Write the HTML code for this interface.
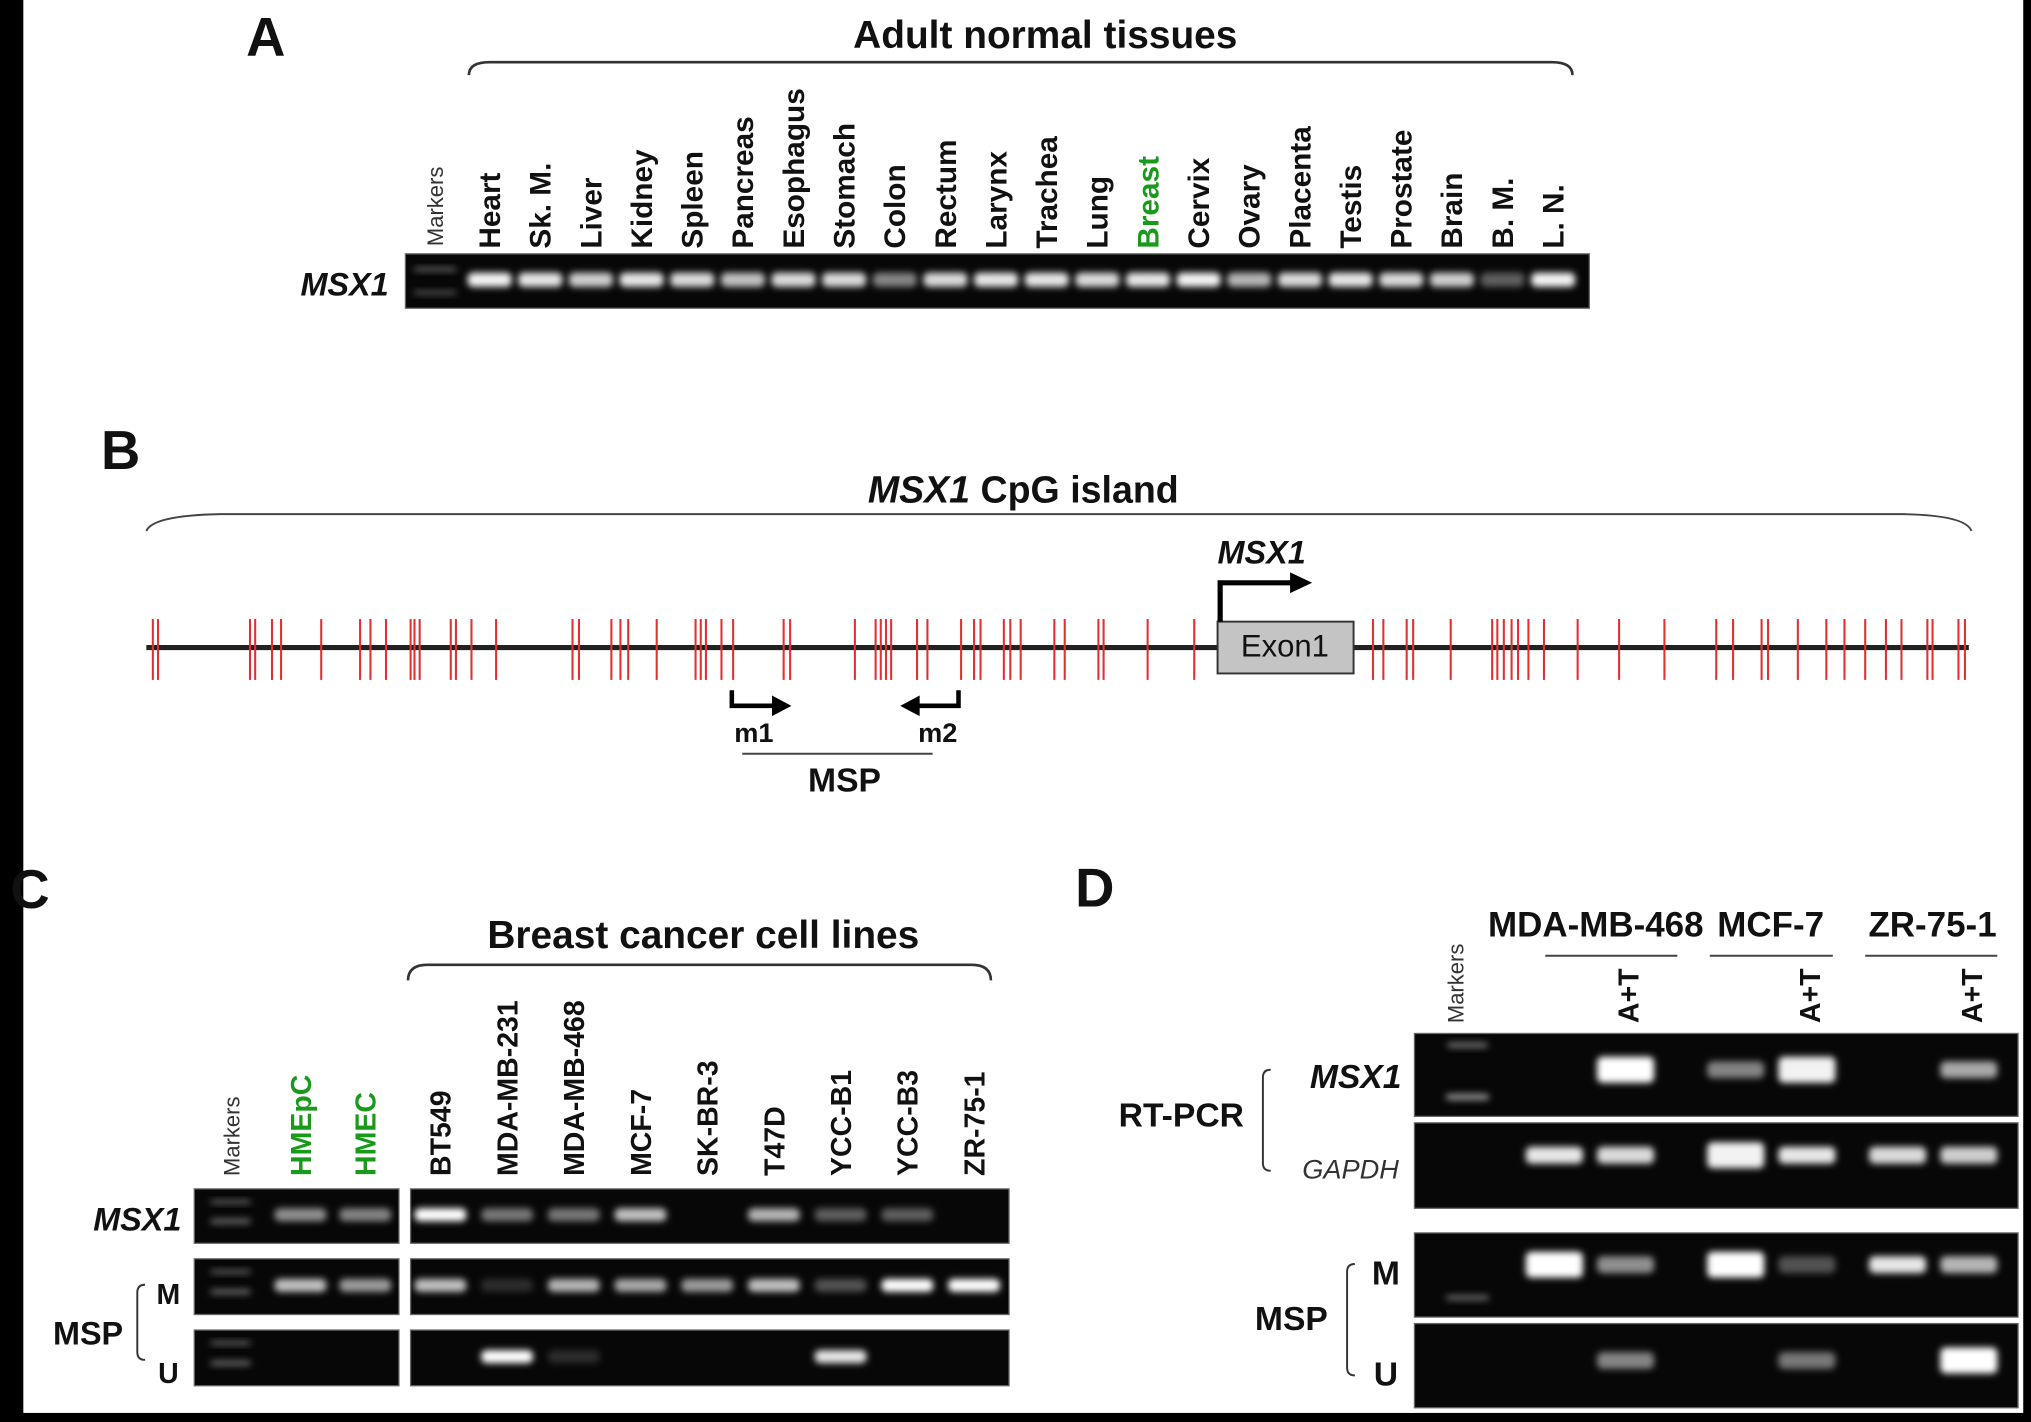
<!DOCTYPE html>
<html><head><meta charset="utf-8"><style>
html,body{margin:0;padding:0;background:#fff;}
svg{display:block;}
text{font-family:"Liberation Sans",sans-serif;}
</style></head><body>
<svg id="fig" width="2031" height="1422" viewBox="0 0 1568 1098" preserveAspectRatio="none" xmlns="http://www.w3.org/2000/svg">
<defs>
<filter id="blur" x="-50%" y="-100%" width="200%" height="300%"><feGaussianBlur stdDeviation="2.6"/></filter>
</defs>
<rect x="0" y="0" width="1568" height="1098" fill="#fff"/>
<rect x="0" y="0" width="18" height="1098" fill="#000"/>
<rect x="1562" y="0" width="6" height="1098" fill="#000"/>
<rect x="0" y="1091" width="1568" height="7" fill="#000"/>
<g id="root"></g>
</svg>
<script>
// ---------- data ----------
const laneNamesA = ["Heart","Sk. M.","Liver","Kidney","Spleen","Pancreas","Esophagus","Stomach","Colon","Rectum","Larynx","Trachea","Lung","Breast","Cervix","Ovary","Placenta","Testis","Prostate","Brain","B. M.","L. N."];
const bandA = [0.95,0.9,0.8,0.9,0.85,0.75,0.85,0.85,0.5,0.85,0.9,0.9,0.85,0.9,0.95,0.7,0.85,0.9,0.85,0.8,0.35,0.95];
const cpgSites = [118,122,193,197,210,217,248,278,286,298,317,320,324,348,352,364,383,442,447,472,479,485,507,537,541,545,557,566,605,610,660,676,680,684,688,708,716,742,752,757,775,780,788,814,822,848,852,886,922,1060,1068,1086,1091,1120,1152,1156,1161,1167,1172,1180,1192,1218,1250,1285,1325,1338,1360,1365,1388,1410,1424,1440,1456,1468,1488,1492,1512,1517];
const laneNamesC = ["HMEpC","HMEC","BT549","MDA-MB-231","MDA-MB-468","MCF-7","SK-BR-3","T47D","YCC-B1","YCC-B3","ZR-75-1"];
const msx1C = [0.55,0.5,1.0,0.45,0.45,0.75,0,0.7,0.35,0.35,0];
const mspMC = [0.75,0.6,0.75,0.15,0.7,0.65,0.6,0.75,0.3,1.0,1.0];
const mspUC = [0,0,0,1.0,0.15,0,0,0,0.9,0,0];
const laneNamesD = ["MDA-MB-468","MDA-MB-468 A+T","MCF-7","MCF-7 A+T","ZR-75-1","ZR-75-1 A+T"];
const msx1D = [0,1.0,0.5,0.95,0,0.65];
const gapdhD = [0.9,0.85,0.95,0.9,0.85,0.8];
const mspMD = [1.0,0.55,1.0,0.3,0.9,0.7];
const mspUD = [0,0.5,0,0.45,0,1.0];

// ---------- helpers ----------
const NS="http://www.w3.org/2000/svg";
const root=document.getElementById('root');
function mk(tag,attrs,parent){const e=document.createElementNS(NS,tag);for(const k in attrs)e.setAttribute(k,attrs[k]);(parent||root).appendChild(e);return e;}
function txt(x,y,s,opt,parent){const o=Object.assign({x:x,y:y,'font-size':20,'font-weight':'bold',fill:'#111'},opt||{});const e=mk('text',o,parent);e.textContent=s;return e;}
function band(g,cx,cy,w,h,v){if(v<=0)return;const b=mk('rect',{x:cx-w/2,y:cy-h/2,width:w,height:h,rx:4,fill:'#fff','fill-opacity':Math.min(1,v),filter:'url(#blur)'},g);}
function gel(x,y,w,h,name){const r=mk('rect',{x:x,y:y,width:w,height:h,fill:'#070707',stroke:'#666','stroke-width':1});return r;}
function rot(x,y,s,opt){const o=Object.assign({transform:`rotate(-90 ${x} ${y})`},opt||{});return txt(x,y,s,o);}

// ---------- Panel A ----------
txt(190,43,"A",{'font-size':42});
txt(807,37,"Adult normal tissues",{'font-size':30,'text-anchor':'middle'});
mk('path',{d:'M362,58 Q362,48 378,48 L1198,48 Q1214,48 1214,58',fill:'none',stroke:'#333','stroke-width':2});
gel(313,196,914,42,'gel-panel-a');
const gA=mk('g',{});
const xA=i=>378+i*39.1;
rot(342,190,"Markers",{'font-size':17,'font-weight':'normal',fill:'#333'});
band(gA,336,208,34,3,0.4);band(gA,336,226,34,3,0.35);
laneNamesA.forEach((n,i)=>{
  const t=rot(xA(i)+8,192,n,{'font-size':23,fill:n==="Breast"?'#1a9a1a':'#111'});
  
  band(gA,xA(i),216,34,11,bandA[i]);
});
txt(300,228,"MSX1",{'font-size':25,'font-style':'italic','text-anchor':'end'});

// ---------- Panel B ----------
txt(78,362,"B",{'font-size':42});
const tb=txt(790,388,"",{'font-size':29,'text-anchor':'middle'});
const ts1=mk('tspan',{'font-style':'italic'},tb);ts1.textContent="MSX1";
const ts2=mk('tspan',{},tb);ts2.textContent=" CpG island";
mk('path',{d:'M113,410 Q118,398 170,397 L1470,397 Q1518,398 1522,410',fill:'none',stroke:'#444','stroke-width':1.5});
mk('line',{x1:113,y1:500,x2:1520,y2:500,stroke:'#222','stroke-width':4});
cpgSites.forEach(x=>{const l=mk('line',{x1:x,y1:478,x2:x,y2:525,stroke:'#e03030','stroke-width':1.6});});
mk('rect',{x:940,y:480,width:105,height:40,fill:'#c4c4c4',stroke:'#333','stroke-width':1.5});
txt(992,507,"Exon1",{'font-size':24,'font-weight':'normal','text-anchor':'middle'});
mk('path',{d:'M942,480 L942,450 L998,450',fill:'none',stroke:'#000','stroke-width':4});
mk('path',{d:'M996,442 L1013,450 L996,458 Z',fill:'#000'});
txt(940,435,"MSX1",{'font-size':25,'font-style':'italic'});
mk('path',{d:'M565,533 L565,545 L598,545',fill:'none',stroke:'#000','stroke-width':3.5});
mk('path',{d:'M596,537 L611,545 L596,553 Z',fill:'#000'});
mk('path',{d:'M740,533 L740,545 L708,545',fill:'none',stroke:'#000','stroke-width':3.5});
mk('path',{d:'M710,537 L695,545 L710,553 Z',fill:'#000'});
txt(582,573,"m1",{'font-size':21,'text-anchor':'middle'});
txt(724,573,"m2",{'font-size':21,'text-anchor':'middle'});
mk('line',{x1:573,y1:582,x2:720,y2:582,stroke:'#444','stroke-width':1.5});
txt(652,611,"MSP",{'font-size':26,'text-anchor':'middle'});

// ---------- Panel C ----------
txt(8,701,"C",{'font-size':42});
txt(543,732,"Breast cancer cell lines",{'font-size':30,'text-anchor':'middle'});
mk('path',{d:'M315,757 Q315,745 330,745 L750,745 Q765,745 765,757',fill:'none',stroke:'#333','stroke-width':2});
const rowsC=[[918,960,msx1C,'msx1'],[972,1015,mspMC,'msp-m'],[1027,1070,mspUC,'msp-u']];
const xC=i=>i<2?[232,282][i]:340+(i-2)*51.5;
rot(185,908,"Markers",{'font-size':17,'font-weight':'normal',fill:'#333'});
laneNamesC.forEach((n,i)=>{const t=rot(xC(i)+8,908,n,{'font-size':22,fill:i<2?'#1a9a1a':'#111'});});
rowsC.forEach(([y0,y1,vals,nm])=>{
  gel(150,y0,158,y1-y0,'gel-c-left-'+nm);gel(317,y0,462,y1-y0,'gel-c-right-'+nm);
  const g=mk('g',{});
  const mid=(y0+y1)/2;
  band(g,178,y0+10,32,3,0.4);band(g,178,mid+4,32,4,0.4);
  vals.forEach((v,i)=>band(g,xC(i),mid-1,40,10,v));
});
txt(140,950,"MSX1",{'font-size':25,'font-style':'italic','text-anchor':'end'});
txt(130,1007,"M",{'font-size':22,'text-anchor':'middle'});
txt(130,1068,"U",{'font-size':22,'text-anchor':'middle'});
txt(68,1038,"MSP",{'font-size':25,'text-anchor':'middle'});
mk('path',{d:'M112,992 Q106,992 106,998 L106,1044 Q106,1050 112,1050',fill:'none',stroke:'#333','stroke-width':1.5});

// ---------- Panel D ----------
txt(830,700,"D",{'font-size':42});
txt(1232,723,"MDA-MB-468",{'font-size':27,'text-anchor':'middle'});
txt(1367,723,"MCF-7",{'font-size':27,'text-anchor':'middle'});
txt(1492,723,"ZR-75-1",{'font-size':27,'text-anchor':'middle'});
[[1193,1295],[1320,1415],[1440,1542]].forEach(([a,b])=>mk('line',{x1:a,y1:738,x2:b,y2:738,stroke:'#444','stroke-width':1.5}));
rot(1130,790,"Markers",{'font-size':17,'font-weight':'normal',fill:'#333'});
[1265,1405,1530].forEach(x=>rot(x,790,"A+T",{'font-size':22}));
const xD=i=>[1200,1255,1340,1395,1465,1520][i];
const rowsD=[[798,862,msx1D,'msx1',-4],[867,933,gapdhD,'gapdh',-8],[952,1017,mspMD,'msp-m',-8],[1022,1087,mspUD,'msp-u',-4]];
rowsD.forEach(([y0,y1,vals,nm,off])=>{
  gel(1092,y0,466,y1-y0,'gel-d-'+nm);
  const g=mk('g',{});
  const mid=(y0+y1)/2+off;
  vals.forEach((v,i)=>band(g,xD(i),mid,44,v>0.9?20:13,v));
});
const gm=mk('g',{});
band(gm,1133,807,32,4,0.45);band(gm,1133,847,34,5,0.55);band(gm,1133,1002,34,4,0.4);
txt(1082,840,"MSX1",{'font-size':26,'font-style':'italic','text-anchor':'end'});
txt(1080,910,"GAPDH",{'font-size':21,'font-style':'italic','font-weight':'normal','text-anchor':'end',fill:'#333'});
txt(912,870,"RT-PCR",{'font-size':26,'text-anchor':'middle'});
mk('path',{d:'M981,826 Q975,826 975,832 L975,898 Q975,904 981,904',fill:'none',stroke:'#333','stroke-width':1.5});
txt(997,1027,"MSP",{'font-size':26,'text-anchor':'middle'});
txt(1070,992,"M",{'font-size':26,'text-anchor':'middle'});
txt(1070,1070,"U",{'font-size':26,'text-anchor':'middle'});
mk('path',{d:'M1046,976 Q1040,976 1040,982 L1040,1056 Q1040,1062 1046,1062',fill:'none',stroke:'#333','stroke-width':1.5});
</script>
</body></html>
